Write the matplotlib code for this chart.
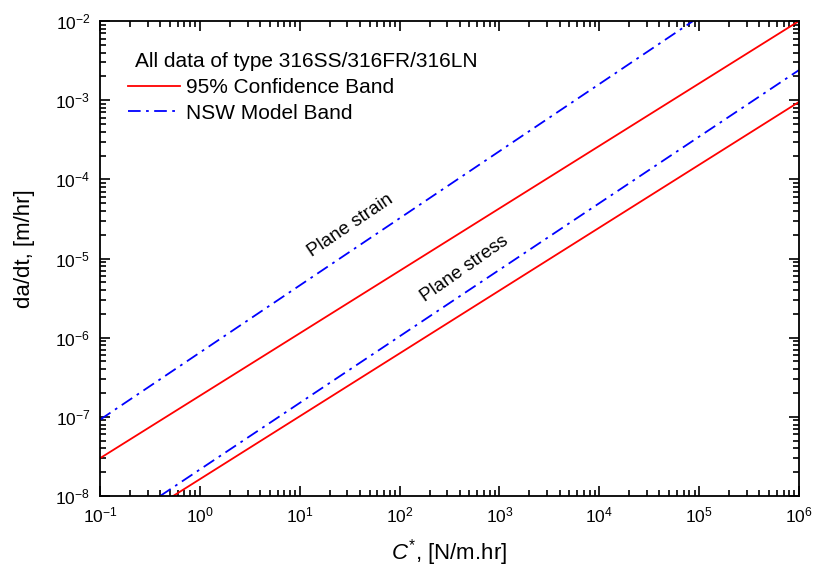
import matplotlib
matplotlib.use("Agg")
import matplotlib.pyplot as plt
import numpy as np
from matplotlib.ticker import LogLocator, NullFormatter

plt.rcParams['font.family'] = ['Liberation Sans', 'DejaVu Sans']
plt.rcParams['mathtext.fontset'] = 'custom'
plt.rcParams['mathtext.rm'] = 'Liberation Sans'
plt.rcParams['mathtext.it'] = 'Liberation Sans:italic'

# Band end points (C*, da/dt)
red_upper_x = [0.1, 1e6]
red_upper_y = [3.0e-8, 1.0e-2]
red_lower_x = [0.54, 1e6]
red_lower_y = [1.0e-8, 9.5e-4]
blue_upper_x = [0.1, 8.7e4]
blue_upper_y = [9.2e-8, 1.0e-2]
blue_lower_x = [0.40, 1e6]
blue_lower_y = [1.0e-8, 2.4e-3]

legend_title = "All data of type 316SS/316FR/316LN"
label_red = "95% Confidence Band"
label_blue = "NSW Model Band"

fig = plt.figure(figsize=(8.14, 5.72), dpi=100)
ax = fig.add_axes([100/814, 1-496/572, 699/814, 475/572])

dash = (0, (7, 3, 1.5, 3))
ax.plot(red_upper_x, red_upper_y, color='red', lw=1.3, label=label_red)
ax.plot(red_lower_x, red_lower_y, color='red', lw=1.3)
ax.plot(blue_upper_x, blue_upper_y, color='blue', lw=1.3, ls=dash, label=label_blue)
ax.plot(blue_lower_x, blue_lower_y, color='blue', lw=1.3, ls=dash)

ax.set_xscale('log')
ax.set_yscale('log')
ax.set_xlim(1e-1, 1e6)
ax.set_ylim(1e-8, 1e-2)

ax.xaxis.set_major_locator(LogLocator(base=10, numticks=20))
ax.yaxis.set_major_locator(LogLocator(base=10, numticks=20))
ax.xaxis.set_minor_locator(LogLocator(base=10, subs=np.arange(2, 10), numticks=20))
ax.yaxis.set_minor_locator(LogLocator(base=10, subs=np.arange(2, 10), numticks=20))
ax.xaxis.set_minor_formatter(NullFormatter())
ax.yaxis.set_minor_formatter(NullFormatter())

ax.tick_params(which='both', direction='in', top=True, right=True, labelsize=12.5, width=1.2)
ax.tick_params(which='major', length=7, pad=7)
ax.tick_params(which='minor', length=4)
for s in ax.spines.values():
    s.set_linewidth(1.3)

ax.set_xlabel(r'$\mathit{C}^{*}$, [N/m.hr]', fontsize=16, labelpad=8)
ax.set_ylabel('da/dt, [m/hr]', fontsize=16)
ax.yaxis.set_label_coords(-0.093, 0.52)

ax.text(0.050, 0.903, legend_title, transform=ax.transAxes, fontsize=15,
        ha='left', va='baseline')
leg = ax.legend(loc='upper left', frameon=False, fontsize=15,
                handlelength=2.5, handletextpad=0.3, borderpad=0,
                labelspacing=0.3, bbox_to_anchor=(0.040, 0.879), borderaxespad=0)

ax.text(32.6, 2.58e-5, 'Plane strain', rotation=34, fontsize=13.5,
        ha='center', va='center', rotation_mode='anchor')
ax.text(451, 7.4e-6, 'Plane stress', rotation=35, fontsize=13.5,
        ha='center', va='center', rotation_mode='anchor')

fig.savefig('out.png', dpi=100)
